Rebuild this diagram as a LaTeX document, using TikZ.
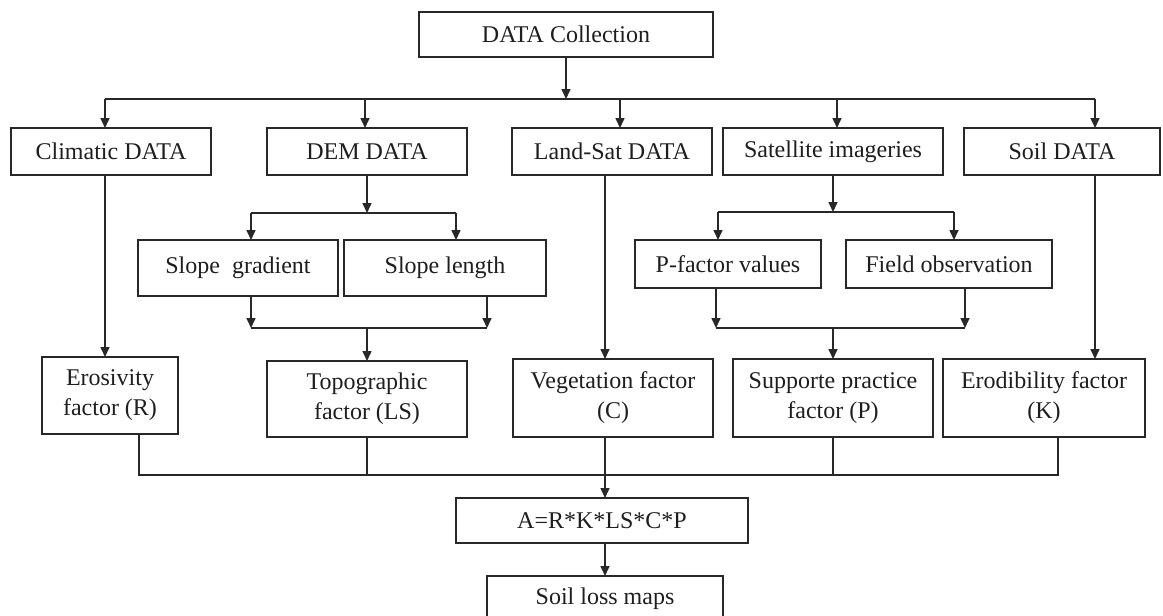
\documentclass[tikz,border=0pt]{standalone}
\usepackage{fontspec}
\setmainfont{Liberation Serif}
\usetikzlibrary{arrows.meta}
\definecolor{LineClr}{RGB}{40,40,40}
\definecolor{TextClr}{RGB}{30,30,30}

\begin{document}
\begin{tikzpicture}[x=0.5pt,y=-0.5pt,
  box/.style={draw=LineClr,line width=0.8pt,inner sep=0pt,outer sep=0pt,align=center,
    text=TextClr,font=\fontsize{12}{15}\selectfont},
  link/.style={draw=LineClr,line width=0.8pt},
  >={Triangle[length=5pt,width=4.5pt]}]
\useasboundingbox (0,0) rectangle (1163,616);

\node[box,minimum width=147pt,minimum height=22.5pt] (coll) at (566,34.5) {DATA Collection};

\node[box,minimum width=100pt,minimum height=23.5pt] (clim) at (111,151.5) {Climatic DATA};
\node[box,minimum width=100pt,minimum height=23.5pt] (dem) at (367,151.5) {DEM DATA};
\node[box,minimum width=100pt,minimum height=23.5pt] (land) at (612,151.5) {Land-Sat DATA};
\node[box,minimum width=110pt,minimum height=23.5pt] (sat) at (833,151.5) {Satellite imageries};
\node[box,minimum width=98pt,minimum height=23.5pt] (soil) at (1062,151.5) {Soil DATA};

\node[box,minimum width=100pt,minimum height=28pt] (slpg) at (238,268) {Slope\ \ gradient};
\node[box,minimum width=101pt,minimum height=28pt] (slpl) at (445,268) {Slope length};
\node[box,minimum width=93pt,minimum height=24pt] (pfac) at (728,264) {P-factor values};
\node[box,minimum width=103pt,minimum height=24pt] (field) at (949,264) {Field observation};

\node[box,minimum width=68pt,minimum height=38.5pt] (eros) at (110,395.5) {Erosivity\\factor (R)};
\node[box,minimum width=100pt,minimum height=38pt] (topo) at (367,399) {Topographic\\factor (LS)};
\node[box,minimum width=100pt,minimum height=39pt] (veg) at (613,398) {Vegetation factor\\(C)};
\node[box,minimum width=100pt,minimum height=39pt] (supp) at (833,398) {Supporte practice\\factor (P)};
\node[box,minimum width=101pt,minimum height=39pt] (erod) at (1044,398) {Erodibility factor\\(K)};

\node[box,minimum width=146pt,minimum height=22.5pt] (usle) at (602,520.5) {A=R*K*LS*C*P};
\node[box,minimum width=118pt,minimum height=23pt] (map) at (605,599) {Soil loss maps};

\coordinate (bus) at (566,99);
\coordinate (b1) at (105,99);
\coordinate (b2) at (365,99);
\coordinate (b3) at (620,99);
\coordinate (b4) at (837,99);
\coordinate (b5) at (1095,99);
\coordinate (dl) at (251,213);
\coordinate (dr) at (456,213);
\coordinate (ml) at (251,328);
\coordinate (mr) at (487,328);
\coordinate (sl) at (718,212);
\coordinate (sr) at (954,212);
\coordinate (pl) at (716,328);
\coordinate (pr) at (965,328);
\coordinate (vl) at (605,475);
\coordinate (e1) at (139,475);
\coordinate (e5) at (1058,475);

\draw[link,->] (coll) -- (bus);
\draw[link] (b1) -- (b5);
\foreach \b/\n in {b1/clim,b2/dem,b3/land,b4/sat,b5/soil}
  \draw[link,->] (\b) -- (\b |- \n.north);

\draw[link,->] (dem) -- (dem |- dl);
\draw[link] (dl) -- (dr);
\draw[link,->] (dl) -- (dl |- slpg.north);
\draw[link,->] (dr) -- (dr |- slpl.north);
\draw[link,->] (ml |- slpg.south) -- (ml);
\draw[link,->] (mr |- slpl.south) -- (mr);
\draw[link] (ml) -- (mr);
\draw[link,->] (topo |- ml) -- (topo);

\draw[link,->] (sat) -- (sat |- sl);
\draw[link] (sl) -- (sr);
\draw[link,->] (sl) -- (sl |- pfac.north);
\draw[link,->] (sr) -- (sr |- field.north);
\draw[link,->] (pl |- pfac.south) -- (pl);
\draw[link,->] (pr |- field.south) -- (pr);
\draw[link] (pl) -- (pr);
\draw[link,->] (supp |- pl) -- (supp);

\draw[link,->] (b1 |- clim.south) -- (b1 |- eros.north);
\draw[link,->] (vl |- land.south) -- (vl |- veg.north);
\draw[link,->] (b5 |- soil.south) -- (b5 |- erod.north);

\draw[link] (e1 |- eros.south) -- (e1) -- (e5) -- (e5 |- erod.south);
\draw[link] (topo) -- (topo |- e1);
\draw[link] (supp) -- (supp |- e1);
\draw[link,->] (vl |- veg.south) -- (vl |- usle.north);
\draw[link,->] (vl |- usle.south) -- (vl |- map.north);

\end{tikzpicture}
\end{document}
